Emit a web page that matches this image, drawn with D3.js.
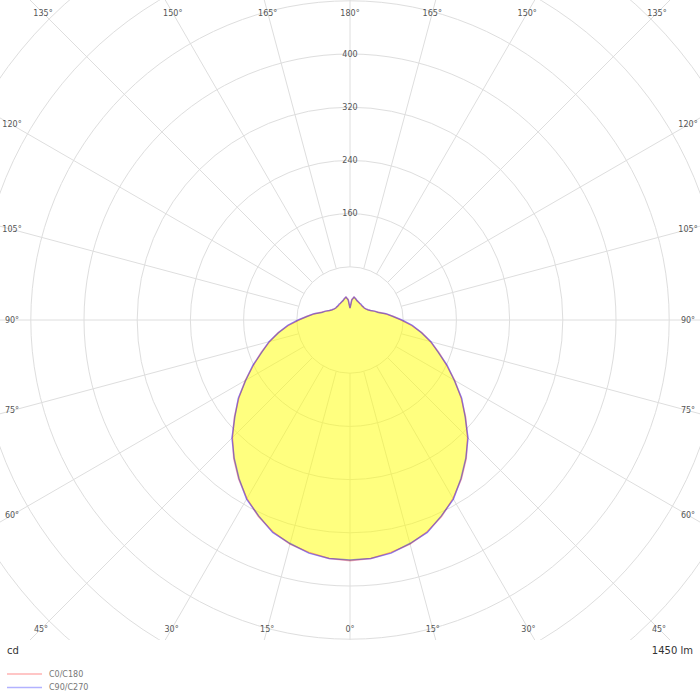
<!DOCTYPE html>
<html>
<head>
<meta charset="utf-8">
<script src="https://cdn.jsdelivr.net/npm/d3@7"></script>
<style>
body{margin:0;background:#fff;}
text{font-family:"DejaVu Sans",sans-serif;}
</style>
</head>
<body>
<svg id="chart" width="700" height="700"></svg>
<script>
// gamma angles, 0 = straight down
var angles=[0,5,10,15,20,25,30,35,40,45,50,55,60,65,70,75,80,85,90,95,100,105,110,115,120,125,130,135,140,145,150,155,160,165,170,175,180];
// luminous intensity in cd
var c0c180=[362,360,355,349,339,326,310,292,272,250,227,204,182,160,142,125,110,93,77,65,54,45,39,34,31,29,28,28,28,28,29,30,31,33,35,31,18];
var c90c270=[361,360,356,348,340,325,311,291,271,251,226,205,181,161,141,126,109,94,78,64,55,44,39,34,31,29,28,28,28,29,29,30,31,33,35,30,18];
var ringValues=[80,160,240,320,400,480,560,640,720];
var ringLabels=[160,240,320,400];
var gridAngles=d3.range(0,360,15);
var legendNames=['C0/C180','C90/C270'];
var legendColors=['#ff0000','#0000ff'];
var flux='1450 lm';
var unit='cd';

var svg=d3.select('#chart');
var cx=350, cy=320;
var r=d3.scaleLinear().domain([0,400]).range([0,266]);

svg.append('clipPath').attr('id','area')
  .append('rect').attr('x',0).attr('y',0).attr('width',700).attr('height',640);

var grid=svg.append('g').attr('clip-path','url(#area)')
  .append('g').attr('transform','translate('+cx+','+cy+')');

grid.selectAll('.ring').data(ringValues).enter()
  .append('circle')
  .attr('r',d=>r(d))
  .attr('fill','none')
  .attr('stroke','#dedede')
  .attr('stroke-width',1);

// spokes start at the first ring
grid.selectAll('.spoke').data(gridAngles).enter()
  .append('line')
  .attr('x1',d=>r(80)*Math.sin(d*Math.PI/180))
  .attr('y1',d=>r(80)*Math.cos(d*Math.PI/180))
  .attr('x2',d=>700*Math.sin(d*Math.PI/180))
  .attr('y2',d=>700*Math.cos(d*Math.PI/180))
  .attr('stroke','#dedede')
  .attr('stroke-width',1);

// closed curve: right half then left half going back down
function curvePoints(vals){
  var pts=[];
  angles.forEach((a,i)=>{pts.push([Math.PI-a*Math.PI/180, r(vals[i])]);});
  for(var i=angles.length-2;i>0;i--){
    pts.push([Math.PI+angles[i]*Math.PI/180, r(vals[i])]);
  }
  return pts;
}
var radial=d3.lineRadial()
  .angle(d=>d[0])
  .radius(d=>d[1])
  .curve(d3.curveLinearClosed);

var plot=svg.append('g').attr('transform','translate('+cx+','+cy+')');
plot.append('path')
  .datum(curvePoints(c0c180))
  .attr('d',radial)
  .attr('fill','#ffff00')
  .attr('fill-opacity',0.5)
  .attr('stroke','none');

var lineOpacity=[0.3,0.42];
[c0c180,c90c270].forEach((s,k)=>{
  plot.append('path')
    .datum(curvePoints(s))
    .attr('d',radial)
    .attr('fill','none')
    .attr('stroke',legendColors[k])
    .attr('stroke-opacity',lineOpacity[k])
    .attr('stroke-width',1.5);
});

// ring values up the 180 spoke
svg.selectAll('.rlab').data(ringLabels).enter()
  .append('text')
  .attr('x',cx)
  .attr('y',d=>cy-r(d))
  .attr('text-anchor','middle')
  .attr('dominant-baseline','central')
  .attr('font-size',8)
  .attr('fill','#555')
  .text(d=>d);

// angle labels where each spoke meets the frame
var edgeL=12,edgeR=688,edgeT=13,edgeB=629;
gridAngles.forEach(a=>{
  var sx=Math.sin(a*Math.PI/180), sy=Math.cos(a*Math.PI/180);
  var t=1e9;
  if(sx>1e-6) t=Math.min(t,(edgeR-cx)/sx);
  if(sx<-1e-6) t=Math.min(t,(edgeL-cx)/sx);
  if(sy>1e-6) t=Math.min(t,(edgeB-cy)/sy);
  if(sy<-1e-6) t=Math.min(t,(edgeT-cy)/sy);
  var g=a<=180?a:360-a;
  svg.append('text')
    .attr('x',cx+t*sx)
    .attr('y',cy+t*sy)
    .attr('text-anchor','middle')
    .attr('dominant-baseline','central')
    .attr('font-size',8)
    .attr('fill','#555')
    .text(g+'°');
});

svg.append('text').attr('x',7).attr('y',650)
  .attr('dominant-baseline','central')
  .attr('font-size',10).attr('fill','#333').text(unit);
svg.append('text').attr('x',693).attr('y',650)
  .attr('text-anchor','end')
  .attr('dominant-baseline','central')
  .attr('font-size',10).attr('fill','#333').text(flux);

legendNames.forEach((n,i)=>{
  var y=674+i*13.5;
  svg.append('line').attr('x1',7).attr('x2',42).attr('y1',y).attr('y2',y)
    .attr('stroke',legendColors[i]).attr('stroke-opacity',0.3).attr('stroke-width',1.5);
  svg.append('text').attr('x',49).attr('y',y)
    .attr('dominant-baseline','central')
    .attr('font-size',8).attr('fill','#777').text(n);
});
</script>
</body>
</html>
